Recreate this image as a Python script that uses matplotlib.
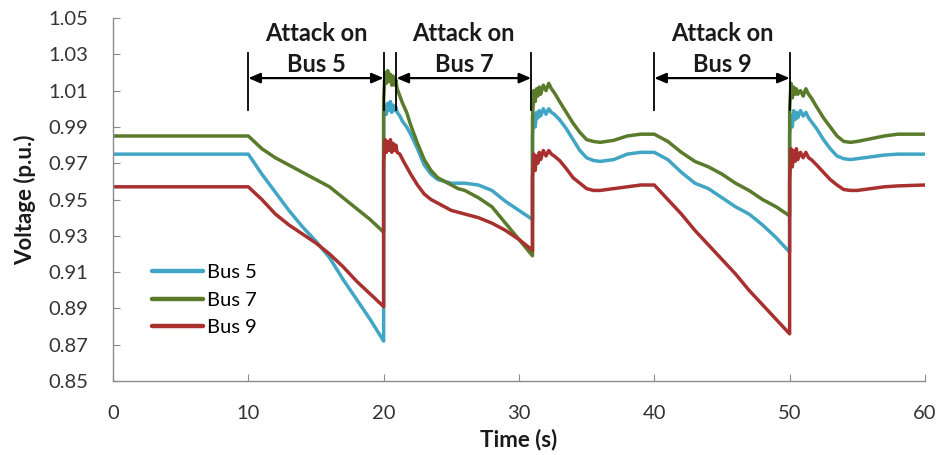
import matplotlib
matplotlib.use("Agg")
import matplotlib.pyplot as plt

plt.rcParams['font.family'] = ['Lato', 'DejaVu Sans']

# ---- data ----
time_s = [0, 10, 11, 12, 13, 14, 15, 16, 17, 18, 19, 20,
          20.0, 20.1, 20.2, 20.3, 20.4, 20.5, 20.6, 20.7, 20.8, 20.9, 21.0,
          21.2, 21.4, 21.7, 22.0, 22.5, 23.0, 23.5, 24.0, 24.5, 25.0, 25.5, 26.0,
          27.0, 28.0, 29.0, 30.0, 31.0,
          31.0, 31.1, 31.2, 31.3, 31.4, 31.5, 31.6, 31.8, 32.0, 32.2, 32.4, 32.6,
          33.0, 33.5, 34.0, 34.5, 35.0, 35.5, 36.0, 37.0, 38.0, 39.0, 40.0,
          41, 42, 43, 44, 45, 46, 47, 48, 49, 50,
          50.0, 50.1, 50.2, 50.3, 50.4, 50.5, 50.6, 50.8, 51.0, 51.2, 51.4, 51.6,
          52.0, 52.5, 53.0, 53.5, 54.0, 54.5, 55.0, 56.0, 57.0, 58.0, 60.0]

bus5 = [0.975, 0.975, 0.964, 0.954, 0.944, 0.935, 0.927, 0.918, 0.906, 0.895, 0.884, 0.872,
        0.996, 1.002, 0.997, 1.003, 0.999, 1.004, 0.998, 1.002, 0.999, 1.001, 0.998,
        0.996, 0.993, 0.990, 0.986, 0.978, 0.969, 0.964, 0.961, 0.960, 0.959, 0.959, 0.959,
        0.958, 0.955, 0.949, 0.944, 0.939,
        0.985, 0.997, 0.990, 0.998, 0.995, 0.999, 0.996, 1.000, 0.997, 1.000, 0.998, 0.997,
        0.994, 0.989, 0.983, 0.977, 0.973, 0.9715, 0.971, 0.972, 0.975, 0.976, 0.976,
        0.972, 0.965, 0.959, 0.956, 0.951, 0.946, 0.942, 0.936, 0.929, 0.921,
        0.985, 0.996, 0.990, 0.999, 0.994, 0.998, 0.995, 0.999, 0.996, 0.998, 0.995, 0.993,
        0.989, 0.983, 0.978, 0.974, 0.9725, 0.972, 0.9725, 0.9735, 0.9745, 0.975, 0.975]

bus7 = [0.985, 0.985, 0.978, 0.973, 0.969, 0.965, 0.961, 0.957, 0.951, 0.945, 0.939, 0.932,
        1.005, 1.020, 1.014, 1.021, 1.015, 1.019, 1.013, 1.018, 1.013, 1.016, 1.011,
        1.007, 1.003, 0.998, 0.991, 0.981, 0.972, 0.966, 0.962, 0.960, 0.958, 0.956, 0.955,
        0.951, 0.946, 0.937, 0.928, 0.919,
        0.995, 1.010, 1.004, 1.011, 1.007, 1.012, 1.008, 1.013, 1.010, 1.014, 1.011, 1.009,
        1.004, 0.998, 0.992, 0.987, 0.983, 0.982, 0.9815, 0.9826, 0.985, 0.986, 0.986,
        0.982, 0.976, 0.971, 0.968, 0.964, 0.959, 0.955, 0.950, 0.946, 0.941,
        1.000, 1.014, 1.006, 1.012, 1.008, 1.011, 1.008, 1.010, 1.007, 1.011, 1.008, 1.006,
        1.001, 0.995, 0.990, 0.985, 0.982, 0.9815, 0.982, 0.9835, 0.985, 0.986, 0.986]

bus9 = [0.957, 0.957, 0.950, 0.942, 0.936, 0.931, 0.926, 0.920, 0.913, 0.905, 0.898, 0.891,
        0.970, 0.983, 0.976, 0.982, 0.977, 0.983, 0.976, 0.981, 0.977, 0.980, 0.976,
        0.975, 0.972, 0.968, 0.964, 0.958, 0.953, 0.950, 0.948, 0.946, 0.944, 0.943, 0.942,
        0.940, 0.937, 0.933, 0.928, 0.922,
        0.962, 0.975, 0.966, 0.974, 0.970, 0.976, 0.972, 0.977, 0.974, 0.977, 0.975, 0.974,
        0.9715, 0.967, 0.962, 0.959, 0.956, 0.955, 0.955, 0.956, 0.957, 0.958, 0.958,
        0.950, 0.942, 0.933, 0.925, 0.917, 0.909, 0.900, 0.892, 0.884, 0.876,
        0.960, 0.978, 0.968, 0.977, 0.971, 0.978, 0.972, 0.976, 0.973, 0.976, 0.973, 0.972,
        0.969, 0.965, 0.961, 0.958, 0.9555, 0.955, 0.955, 0.956, 0.957, 0.9575, 0.958]

series_names = ['Bus 5', 'Bus 7', 'Bus 9']
series_colors = ['#41a6c4', '#5a7a2c', '#a8312f']

attack_start = [10, 20.95, 40]
attack_end = [20, 30.9, 50]
attack_labels = ['Attack on\nBus 5', 'Attack on\nBus 7', 'Attack on\nBus 9']

x_ticks = [0, 10, 20, 30, 40, 50, 60]
y_ticks = [0.85, 0.87, 0.89, 0.91, 0.93, 0.95, 0.97, 0.99, 1.01, 1.03, 1.05]

# ---- figure ----
fig = plt.figure(figsize=(9.36, 4.55), dpi=100)
ax = fig.add_axes([0.1207, 0.1626, 0.8675, 0.7978])

for vals, name, col in zip([bus5, bus7, bus9], series_names, series_colors):
    ax.plot(time_s, vals, color=col, lw=2.5, label=name, solid_joinstyle='round')

# attack annotations
for t0, t1, lab in zip(attack_start, attack_end, attack_labels):
    for t in (t0, t1):
        ax.plot([t, t], [0.9992, 1.0307], color='black', lw=1.3)
    ax.annotate('', xy=(t1, 1.0169), xytext=(t0, 1.0169),
                arrowprops=dict(arrowstyle='<|-|>,head_length=0.7,head_width=0.3',
                                color='black', lw=1.6, shrinkA=0, shrinkB=0))
    top, bottom = lab.split('\n')
    xm = (t0 + t1) / 2
    ax.text(xm, 1.0415, top, ha='center', va='center', fontsize=17,
            fontweight='bold', color='#1a1a1a')
    ax.text(xm, 1.0245, bottom, ha='center', va='center', fontsize=17,
            fontweight='bold', color='#1a1a1a')

ax.set_xlim(0, 60)
ax.set_ylim(0.85, 1.05)
ax.set_xticks(x_ticks)
ax.set_yticks(y_ticks)
ax.set_yticklabels([f'{v:.2f}' for v in y_ticks])

for side in ('top', 'right'):
    ax.spines[side].set_visible(False)
for side in ('left', 'bottom'):
    ax.spines[side].set_color('#8c8c8c')
    ax.spines[side].set_linewidth(1.0)

ax.tick_params(axis='both', direction='in', length=5, color='#8c8c8c',
               labelsize=14.5, labelcolor='#333333')
ax.tick_params(axis='y', pad=18)
ax.tick_params(axis='x', pad=17)

ax.set_xlabel('Time (s)', fontsize=16, fontweight='bold', color='#1a1a1a')
ax.set_ylabel('Voltage (p.u.)', fontsize=16, fontweight='bold', color='#1a1a1a')
ax.xaxis.label.set_verticalalignment('center')
ax.yaxis.label.set_verticalalignment('center')
ax.xaxis.set_label_coords(0.5, -0.1625)
ax.yaxis.set_label_coords(-0.108, 0.5)

leg = ax.legend(loc='center left', bbox_to_anchor=(0.038, 0.223), frameon=False,
                fontsize=14.5, handlelength=2.55, handletextpad=0.2, labelspacing=0.5,
                borderaxespad=0)
for h in leg.get_lines():
    h.set_linewidth(3.2)
    h.set_solid_capstyle('round')

fig.savefig('out.png', dpi=100)
